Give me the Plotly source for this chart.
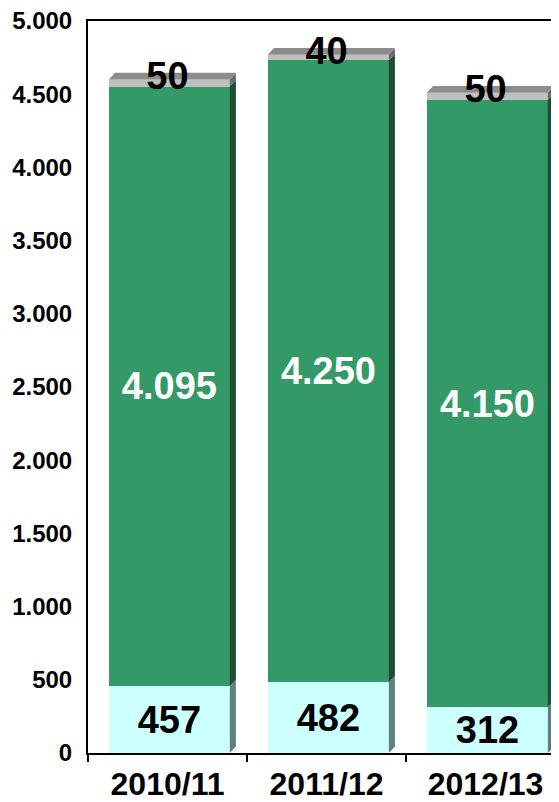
import plotly.graph_objects as go

categories = ["2010/11", "2011/12", "2012/13"]
bottom_vals = [457, 482, 312]
middle_vals = [4095, 4250, 4150]
top_vals = [50, 40, 50]
y_ticks = [0, 500, 1000, 1500, 2000, 2500, 3000, 3500, 4000, 4500, 5000]

FONT = "Liberation Sans, Arial, sans-serif"
BAR_W = 0.76
DX = 0.038   # depth in category units
DY = 44      # depth in value units

front_cols = ["#ccffff", "#339966", "#c0c0c0"]
side_cols = ["#5f8080", "#1e4d33", "#6a6a6a"]
top_face_col = "#8c8c8c"

xpos = list(range(len(categories)))

fig = go.Figure()

segments = [bottom_vals, middle_vals, top_vals]
text_cols = ["black", "white", "black"]
for k, vals in enumerate(segments):
    fig.add_trace(go.Bar(
        x=xpos, y=vals, width=BAR_W, offset=-BAR_W / 2 + 0.012,
        marker=dict(color=front_cols[k], line=dict(width=0)),
        text=[f"{v:,}".replace(",", ".") for v in vals] if k < 2 else None,
        textposition="inside" if k < 2 else "none",
        insidetextanchor="middle",
        constraintext="none",
        textfont=dict(family=FONT, size=38, color=text_cols[k], weight="bold"),
        showlegend=False, hoverinfo="skip",
    ))

# 3D side faces and top faces, computed from the data
for i in xpos:
    base = 0
    xr = i + BAR_W / 2 + 0.012
    xl = i - BAR_W / 2 + 0.012
    for k, vals in enumerate(segments):
        y0 = base
        y1 = base + vals[i]
        fig.add_trace(go.Scatter(
            x=[xr, xr + DX, xr + DX, xr, xr],
            y=[y0, y0 + DY, y1 + DY, y1, y0],
            fill="toself", fillcolor=side_cols[k], mode="lines",
            line=dict(width=0), showlegend=False, hoverinfo="skip",
        ))
        base = y1
    fig.add_trace(go.Scatter(
        x=[xl, xl + DX, xr + DX, xr, xl],
        y=[base, base + DY, base + DY, base, base],
        fill="toself", fillcolor=top_face_col, mode="lines",
        line=dict(width=0), showlegend=False, hoverinfo="skip",
    ))

totals = [a + b + c for a, b, c in zip(bottom_vals, middle_vals, top_vals)]
fig.add_trace(go.Scatter(
    x=xpos, y=totals, mode="text", cliponaxis=False,
    text=[str(v) for v in top_vals], textposition="middle center",
    textfont=dict(family=FONT, size=38, color="black", weight="bold"),
    showlegend=False, hoverinfo="skip",
))

fig.update_layout(
    width=551, height=794,
    margin=dict(l=80, r=0, t=13, b=49),
    plot_bgcolor="white", paper_bgcolor="white",
    separators=",.",
    barmode="stack",
    xaxis=dict(
        range=[-0.5, 2.462], showline=True, linecolor="black", linewidth=2,
        mirror=True, tickvals=xpos, ticktext=categories, ticks="",
        showgrid=False, zeroline=False, automargin=False,
        ticklabelstandoff=2, ticklabeloverflow="allow",
        minor=dict(tickvals=[-0.5, 0.5, 1.5], ticks="outside", ticklen=7,
                   tickwidth=2, tickcolor="black", showgrid=False),
        tickfont=dict(family=FONT, size=32, color="black", weight="bold"),
    ),
    yaxis=dict(
        range=[0, 5000], tickvals=y_ticks, tickformat=",d",
        showline=True, linecolor="black", linewidth=2, ticks="",
        showgrid=False, zeroline=False, ticklabelstandoff=9,
        automargin=False, ticklabeloverflow="allow",
        tickfont=dict(family=FONT, size=24, color="black", weight="bold"),
    ),
)

fig.write_html("out.html")
